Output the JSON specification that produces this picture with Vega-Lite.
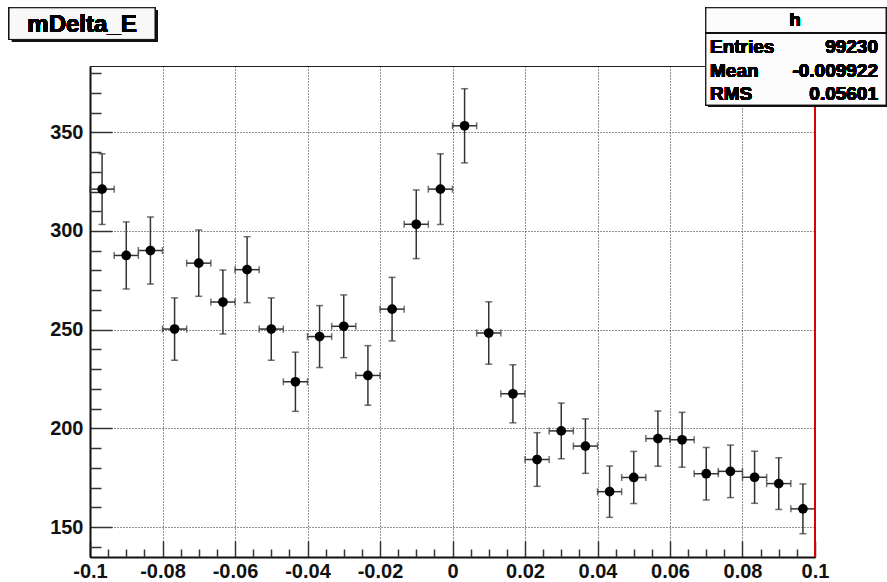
{
  "$schema": "https://vega.github.io/schema/vega-lite/v6.json",
  "autosize": "none",
  "width": 725,
  "height": 491,
  "padding": {"left": 90, "top": 66, "right": 72, "bottom": 25},
  "background": "white",
  "config": {
    "view": {"stroke": "#222222", "strokeWidth": 1},
    "font": "Liberation Sans",
    "axis": {
      "labelFont": "Liberation Sans",
      "labelFontWeight": "bold",
      "labelFontSize": 20,
      "labelColor": "#111111",
      "labelFlush": false,
      "labelOverlap": false,
      "labelBound": false,
      "title": null
    }
  },
  "data": {
    "values": [
      {"x": -0.096667, "x0": -0.1, "x1": -0.093333, "n": 321.2, "lo": 303.3, "hi": 339.1},
      {"x": -0.09, "x0": -0.093333, "x1": -0.086667, "n": 287.6, "lo": 270.6, "hi": 304.6},
      {"x": -0.083333, "x0": -0.086667, "x1": -0.08, "n": 290.1, "lo": 273.1, "hi": 307.1},
      {"x": -0.076667, "x0": -0.08, "x1": -0.073333, "n": 250.3, "lo": 234.5, "hi": 266.1},
      {"x": -0.07, "x0": -0.073333, "x1": -0.066667, "n": 283.7, "lo": 266.9, "hi": 300.5},
      {"x": -0.063333, "x0": -0.066667, "x1": -0.06, "n": 264.0, "lo": 247.8, "hi": 280.2},
      {"x": -0.056667, "x0": -0.06, "x1": -0.053333, "n": 280.4, "lo": 263.7, "hi": 297.1},
      {"x": -0.05, "x0": -0.053333, "x1": -0.046667, "n": 250.3, "lo": 234.5, "hi": 266.1},
      {"x": -0.043333, "x0": -0.046667, "x1": -0.04, "n": 223.6, "lo": 208.6, "hi": 238.6},
      {"x": -0.036667, "x0": -0.04, "x1": -0.033333, "n": 246.5, "lo": 230.8, "hi": 262.2},
      {"x": -0.03, "x0": -0.033333, "x1": -0.026667, "n": 251.7, "lo": 235.8, "hi": 267.6},
      {"x": -0.023333, "x0": -0.026667, "x1": -0.02, "n": 226.8, "lo": 211.7, "hi": 241.9},
      {"x": -0.016667, "x0": -0.02, "x1": -0.013333, "n": 260.4, "lo": 244.3, "hi": 276.5},
      {"x": -0.01, "x0": -0.013333, "x1": -0.006667, "n": 303.4, "lo": 286.0, "hi": 320.8},
      {"x": -0.003333, "x0": -0.006667, "x1": 0.0, "n": 321.2, "lo": 303.3, "hi": 339.1},
      {"x": 0.003333, "x0": 0.0, "x1": 0.006667, "n": 353.3, "lo": 334.5, "hi": 372.1},
      {"x": 0.01, "x0": 0.006667, "x1": 0.013333, "n": 248.3, "lo": 232.5, "hi": 264.1},
      {"x": 0.016667, "x0": 0.013333, "x1": 0.02, "n": 217.5, "lo": 202.8, "hi": 232.2},
      {"x": 0.023333, "x0": 0.02, "x1": 0.026667, "n": 184.2, "lo": 170.6, "hi": 197.8},
      {"x": 0.03, "x0": 0.026667, "x1": 0.033333, "n": 198.7, "lo": 184.6, "hi": 212.8},
      {"x": 0.036667, "x0": 0.033333, "x1": 0.04, "n": 191.0, "lo": 177.2, "hi": 204.8},
      {"x": 0.043333, "x0": 0.04, "x1": 0.046667, "n": 167.9, "lo": 154.9, "hi": 180.9},
      {"x": 0.05, "x0": 0.046667, "x1": 0.053333, "n": 175.1, "lo": 161.9, "hi": 188.3},
      {"x": 0.056667, "x0": 0.053333, "x1": 0.06, "n": 194.8, "lo": 180.8, "hi": 208.8},
      {"x": 0.063333, "x0": 0.06, "x1": 0.066667, "n": 194.2, "lo": 180.3, "hi": 208.1},
      {"x": 0.07, "x0": 0.066667, "x1": 0.073333, "n": 177.0, "lo": 163.7, "hi": 190.3},
      {"x": 0.076667, "x0": 0.073333, "x1": 0.08, "n": 178.2, "lo": 164.9, "hi": 191.5},
      {"x": 0.083333, "x0": 0.08, "x1": 0.086667, "n": 175.2, "lo": 162.0, "hi": 188.4},
      {"x": 0.09, "x0": 0.086667, "x1": 0.093333, "n": 172.0, "lo": 158.9, "hi": 185.1},
      {"x": 0.096667, "x0": 0.093333, "x1": 0.1, "n": 159.2, "lo": 146.6, "hi": 171.8}
    ]
  },
  "resolve": {"axis": {"x": "independent", "y": "independent"}},
  "layer": [
    {
      "mark": {"type": "rule", "color": "#333333", "strokeWidth": 1.5},
      "encoding": {
        "x": {
          "field": "x", "type": "quantitative",
          "scale": {"domain": [-0.1, 0.1], "nice": false, "zero": false},
          "axis": {
            "orient": "bottom",
            "values": [-0.1, -0.08, -0.06, -0.04, -0.02, 0, 0.02, 0.04, 0.06, 0.08, 0.1],
            "labelExpr": "'' + datum.value",
            "grid": true, "gridDash": [1, 2], "gridColor": "#222222", "gridWidth": 1,
            "tickSize": -16, "tickColor": "#333333", "tickWidth": 1.5,
            "domainColor": "#111111", "domainWidth": 2,
            "labelPadding": 20
          }
        },
        "y": {
          "field": "lo", "type": "quantitative",
          "scale": {"domain": [134.8, 383.6], "nice": false, "zero": false},
          "axis": {
            "orient": "left",
            "values": [150, 200, 250, 300, 350],
            "grid": true, "gridDash": [1, 2], "gridColor": "#222222", "gridWidth": 1,
            "tickSize": -22, "tickColor": "#333333", "tickWidth": 1.5,
            "domainColor": "#111111", "domainWidth": 2,
            "labelPadding": 29
          }
        },
        "y2": {"field": "hi"}
      }
    },
    {
      "mark": {"type": "rule", "color": "#333333", "strokeWidth": 1.5},
      "encoding": {
        "x": {"field": "x0", "type": "quantitative", "axis": null},
        "x2": {"field": "x1"},
        "y": {"field": "n", "type": "quantitative", "axis": null}
      }
    },
    {
      "mark": {"type": "tick", "orient": "horizontal", "color": "#333333", "size": 7, "thickness": 1.5},
      "encoding": {
        "x": {"field": "x", "type": "quantitative", "axis": null},
        "y": {"field": "lo", "type": "quantitative", "axis": null}
      }
    },
    {
      "mark": {"type": "tick", "orient": "horizontal", "color": "#333333", "size": 7, "thickness": 1.5},
      "encoding": {
        "x": {"field": "x", "type": "quantitative", "axis": null},
        "y": {"field": "hi", "type": "quantitative", "axis": null}
      }
    },
    {
      "mark": {"type": "tick", "orient": "vertical", "color": "#333333", "size": 7, "thickness": 1.5},
      "encoding": {
        "x": {"field": "x0", "type": "quantitative", "axis": null},
        "y": {"field": "n", "type": "quantitative", "axis": null}
      }
    },
    {
      "mark": {"type": "tick", "orient": "vertical", "color": "#333333", "size": 7, "thickness": 1.5},
      "encoding": {
        "x": {"field": "x1", "type": "quantitative", "axis": null},
        "y": {"field": "n", "type": "quantitative", "axis": null}
      }
    },
    {
      "mark": {"type": "rule", "color": "#dd0000", "strokeWidth": 2},
      "encoding": {
        "x": {"datum": 0.1, "type": "quantitative", "axis": null}
      }
    },
    {
      "mark": {"type": "point", "filled": true, "color": "black", "size": 95, "opacity": 1},
      "encoding": {
        "x": {
          "field": "x", "type": "quantitative",
          "axis": {
            "orient": "bottom",
            "values": [-0.095, -0.09, -0.085, -0.075, -0.07, -0.065, -0.055, -0.05, -0.045, -0.035, -0.03, -0.025, -0.015, -0.01, -0.005, 0.005, 0.01, 0.015, 0.025, 0.03, 0.035, 0.045, 0.05, 0.055, 0.065, 0.07, 0.075, 0.085, 0.09, 0.095],
            "labels": false, "grid": false, "domain": false,
            "tickSize": -8, "tickColor": "#333333", "tickWidth": 1.5
          }
        },
        "y": {
          "field": "n", "type": "quantitative",
          "axis": {
            "orient": "left",
            "values": [140, 160, 170, 180, 190, 210, 220, 230, 240, 260, 270, 280, 290, 310, 320, 330, 340, 360, 370, 380],
            "labels": false, "grid": false, "domain": false,
            "tickSize": -11, "tickColor": "#333333", "tickWidth": 1.5
          }
        }
      }
    },
    {
      "mark": {"type": "rect", "fill": "#111111"},
      "encoding": {
        "x": {"datum": -0.12152, "type": "quantitative", "axis": null},
        "x2": {"datum": -0.08143},
        "y": {"datum": 411.55, "type": "quantitative", "axis": null},
        "y2": {"datum": 395.7}
      }
    },
    {
      "mark": {"type": "rect", "fill": "#f8f8f8", "stroke": "#111111", "strokeWidth": 1},
      "encoding": {
        "x": {"datum": -0.12234, "type": "quantitative", "axis": null},
        "x2": {"datum": -0.08207},
        "y": {"datum": 413.1, "type": "quantitative", "axis": null},
        "y2": {"datum": 397.07}
      }
    },
    {
      "mark": {"type": "text", "text": "mDelta_E", "font": "Liberation Sans", "fontWeight": "bold", "fontSize": 24, "align": "center", "baseline": "middle", "color": "black"},
      "encoding": {
        "x": {"datum": -0.10221, "type": "quantitative", "axis": null},
        "y": {"datum": 404.6, "type": "quantitative", "axis": null}
      }
    },
    {
      "mark": {"type": "rect", "fill": "#111111"},
      "encoding": {
        "x": {"datum": 0.0707, "type": "quantitative", "axis": null},
        "x2": {"datum": 0.12},
        "y": {"datum": 412.0, "type": "quantitative", "axis": null},
        "y2": {"datum": 362.8}
      }
    },
    {
      "mark": {"type": "rect", "fill": "#fcfcfc", "stroke": "#111111", "strokeWidth": 1},
      "encoding": {
        "x": {"datum": 0.0699, "type": "quantitative", "axis": null},
        "x2": {"datum": 0.1196},
        "y": {"datum": 413.1, "type": "quantitative", "axis": null},
        "y2": {"datum": 363.8}
      }
    },
    {
      "mark": {"type": "rule", "color": "#111111", "strokeWidth": 1},
      "encoding": {
        "x": {"datum": 0.0699, "type": "quantitative", "axis": null},
        "x2": {"datum": 0.1196},
        "y": {"datum": 400.45, "type": "quantitative", "axis": null}
      }
    },
    {
      "mark": {"type": "text", "text": "h", "font": "Liberation Sans", "fontWeight": "bold", "fontSize": 19, "align": "center", "baseline": "middle", "color": "black"},
      "encoding": {
        "x": {"datum": 0.09448, "type": "quantitative", "axis": null},
        "y": {"datum": 406.7, "type": "quantitative", "axis": null}
      }
    },
    {
      "mark": {"type": "text", "text": "Entries", "font": "Liberation Sans", "fontWeight": "bold", "fontSize": 19, "align": "left", "baseline": "middle", "color": "black"},
      "encoding": {
        "x": {"datum": 0.07103, "type": "quantitative", "axis": null},
        "y": {"datum": 393.2, "type": "quantitative", "axis": null}
      }
    },
    {
      "mark": {"type": "text", "text": "Mean", "font": "Liberation Sans", "fontWeight": "bold", "fontSize": 19, "align": "left", "baseline": "middle", "color": "black"},
      "encoding": {
        "x": {"datum": 0.07103, "type": "quantitative", "axis": null},
        "y": {"datum": 381.1, "type": "quantitative", "axis": null}
      }
    },
    {
      "mark": {"type": "text", "text": "RMS", "font": "Liberation Sans", "fontWeight": "bold", "fontSize": 19, "align": "left", "baseline": "middle", "color": "black"},
      "encoding": {
        "x": {"datum": 0.07103, "type": "quantitative", "axis": null},
        "y": {"datum": 369.2, "type": "quantitative", "axis": null}
      }
    },
    {
      "mark": {"type": "text", "text": "99230", "font": "Liberation Sans", "fontWeight": "bold", "fontSize": 19, "align": "right", "baseline": "middle", "color": "black"},
      "encoding": {
        "x": {"datum": 0.11738, "type": "quantitative", "axis": null},
        "y": {"datum": 393.2, "type": "quantitative", "axis": null}
      }
    },
    {
      "mark": {"type": "text", "text": "-0.009922", "font": "Liberation Sans", "fontWeight": "bold", "fontSize": 19, "align": "right", "baseline": "middle", "color": "black"},
      "encoding": {
        "x": {"datum": 0.11738, "type": "quantitative", "axis": null},
        "y": {"datum": 381.1, "type": "quantitative", "axis": null}
      }
    },
    {
      "mark": {"type": "text", "text": "0.05601", "font": "Liberation Sans", "fontWeight": "bold", "fontSize": 19, "align": "right", "baseline": "middle", "color": "black"},
      "encoding": {
        "x": {"datum": 0.11738, "type": "quantitative", "axis": null},
        "y": {"datum": 369.2, "type": "quantitative", "axis": null}
      }
    }
  ]
}
